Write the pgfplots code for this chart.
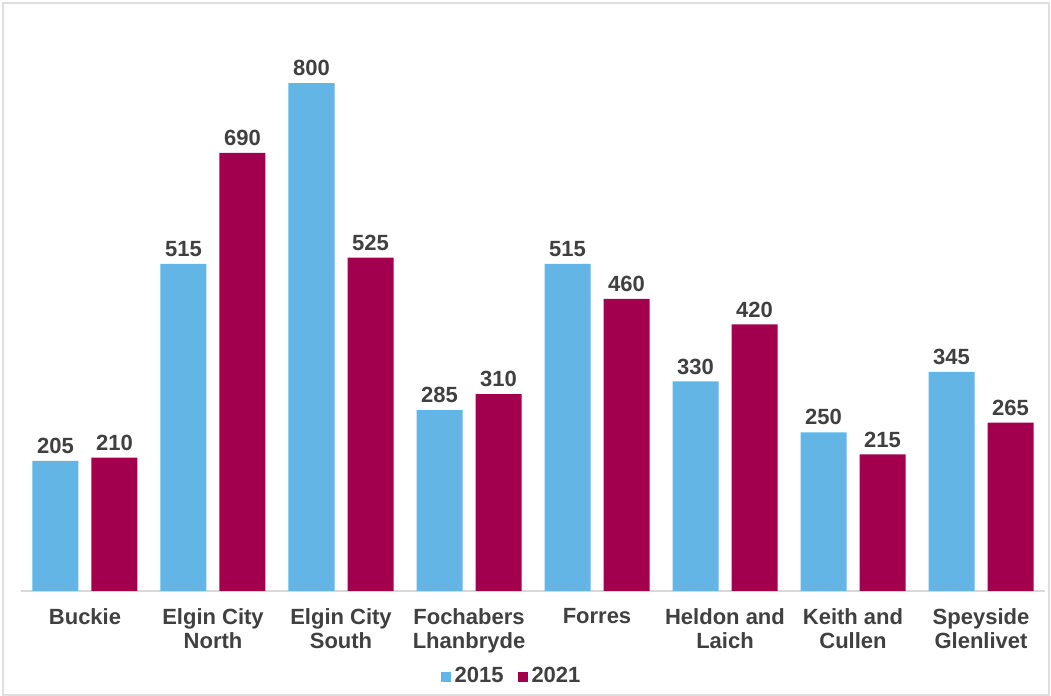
\documentclass[border=0pt]{standalone}
\usepackage{pgfplots}
\pgfplotsset{compat=1.18}
\usepackage{fontspec}
\setmainfont{Liberation Sans}
\definecolor{blueA}{RGB}{99,181,229}
\definecolor{maroonA}{RGB}{162,0,78}
\definecolor{txt}{RGB}{64,64,64}
\begin{document}
\begin{tikzpicture}
\path[use as bounding box] (0,0) rectangle (525.5pt,348pt);
\draw[gray!25,line width=0.6pt] (1.5pt,0.5pt) rectangle (524.5pt,346.5pt);
\begin{axis}[
  at={(10.5pt,52.5pt)}, anchor=south west,
  scale only axis, width=512pt, height=285.75pt,
  ybar, bar width=23pt,
  xmin=-0.5, xmax=7.5, ymin=0, ymax=900,
  enlargelimits=false,
  /pgf/number format/assume math mode=true,
  axis x line=bottom, axis y line=none,
  x axis line style={draw=gray!30, line width=0.8pt, -},
  xtick=data, xtick style={draw=none},
  xticklabels={Buckie, Elgin City\\North, Elgin City\\South, Fochabers\\Lhanbryde, Forres, Heldon and\\Laich, Keith and\\Cullen, Speyside\\Glenlivet},
  xticklabel style={align=center, font=\fontsize{11}{12}\selectfont\bfseries, text=txt, yshift=-3pt},
  nodes near coords,
  every node near coord/.append style={font=\fontsize{11}{12}\selectfont\bfseries, text=txt},
  legend style={at={(0.48,-0.15)}, anchor=center, draw=none, legend columns=2,
    font=\fontsize{11}{12}\selectfont\bfseries, text=txt,
    /tikz/every even column/.append style={column sep=5pt}},
  legend image code/.code={\fill[#1] (0pt,-2.5pt) rectangle (5pt,2.5pt);},
]
\addplot[fill=blueA, draw=none, bar shift=-14.75pt] coordinates {(0,205) (1,515) (2,800) (3,285) (4,515) (5,330) (6,250) (7,345)};
\addplot[fill=maroonA, draw=none, bar shift=14.75pt] coordinates {(0,210) (1,690) (2,525) (3,310) (4,460) (5,420) (6,215) (7,265)};
\legend{2015, 2021}
\end{axis}
\end{tikzpicture}
\end{document}
